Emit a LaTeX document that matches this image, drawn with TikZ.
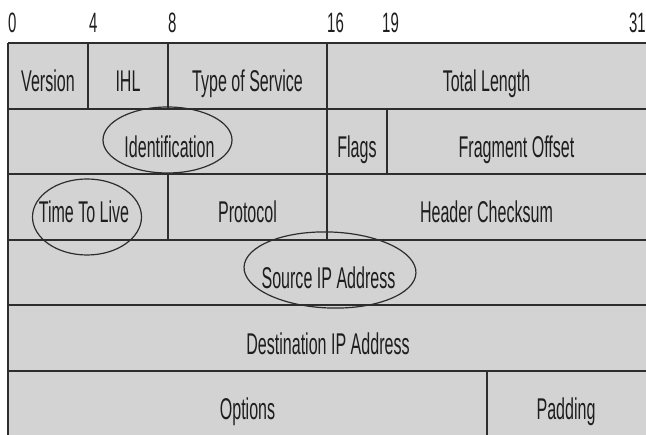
\documentclass[tikz,border=0pt]{standalone}
\usepackage{fontspec}
\setmainfont{Liberation Sans}[FakeStretch=0.535]
\usetikzlibrary{shapes.geometric}
\definecolor{cellfill}{RGB}{211,211,211}
\definecolor{inkline}{RGB}{45,45,45}
\definecolor{inktext}{RGB}{30,30,30}
\begin{document}
\begin{tikzpicture}[x=1pt,y=-1pt,
  hline/.style={draw=inkline,line width=1.9pt},
  vline/.style={draw=inkline,line width=1.3pt},
  field/.style={anchor=base,inner sep=0pt,text=inktext,font=\fontsize{30}{30}\selectfont},
  bitlabel/.style={anchor=base west,inner sep=0pt,text=inktext,font=\fontsize{28}{28}\selectfont},
  ringmark/.style={draw=inkline,line width=1.2pt,ellipse,inner sep=0pt}]
\useasboundingbox (0,0) rectangle (646,435);
\fill[cellfill] (8,42.7) rectangle (646,435);
% horizontal lines
\foreach \yy in {42.7,108.7,174.2,239.7,305.2,371}
  \draw[hline] (8,\yy) -- (646,\yy);
% vertical lines
\draw[vline] (8,42.7) -- (8,435);
\draw[vline] (88,42.7) -- (88,108.7);
\draw[vline] (168,42.7) -- (168,108.7);
\draw[vline] (168,174.2) -- (168,239.7);
\draw[vline] (327,42.7) -- (327,239.7);
\draw[vline] (387,108.7) -- (387,174.2);
\draw[vline] (487,371) -- (487,435);
% bit labels
\node[bitlabel] (b0) at (8,33) {0};
\node[bitlabel] (b4) at (89,33) {4};
\node[bitlabel] (b8) at (168,33) {8};
\node[bitlabel] (b16) at (327,33) {16};
\node[bitlabel] (b19) at (382,33) {19};
\node[bitlabel,anchor=base east] (b31) at (646,33) {31};
% row 1
\node[field] (ver) at (48,91.4) {Version};
\node[field] (ihl) at (128,91.4) {IHL};
\node[field] (tos) at (247.5,91.4) {Type of Service};
\node[field] (tlen) at (486.5,91.4) {Total Length};
% row 2
\node[field] (ident) at (169.5,157.4) {Identification};
\node[field] (flags) at (357,157.4) {Flags};
\node[field] (frag) at (516.5,157.4) {Fragment Offset};
% row 3
\node[field] (ttl) at (84,222.9) {Time To Live};
\node[field] (proto) at (247.5,222.9) {Protocol};
\node[field] (hcs) at (486.5,222.9) {Header Checksum};
% row 4
\node[field] (src) at (328.5,288.4) {Source IP Address};
% row 5
\node[field] (dst) at (328,354.1) {Destination IP Address};
% row 6
\node[field] (opt) at (247.5,419.7) {Options};
\node[field] (pad) at (566,419.7) {Padding};
% highlight ellipses
\node[ringmark,minimum width=129pt,minimum height=66pt] (eid) at (167.5,140) {};
\node[ringmark,minimum width=109pt,minimum height=76pt] (ettl) at (87,217) {};
\node[ringmark,minimum width=172pt,minimum height=76pt,rotate=-2] (esrc) at (330,270) {};
\end{tikzpicture}
\end{document}
